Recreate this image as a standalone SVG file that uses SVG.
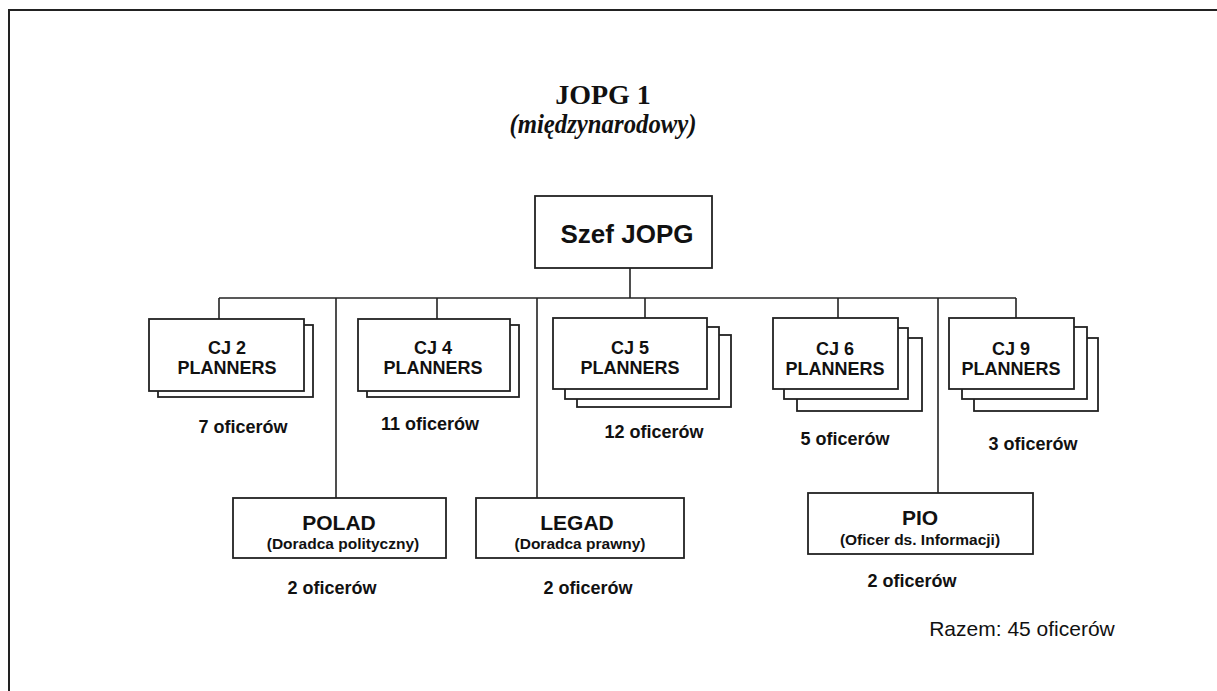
<svg xmlns="http://www.w3.org/2000/svg" width="1217" height="691" viewBox="0 0 1217 691">
<style>
.bx{fill:#fff;stroke:#222;stroke-width:1.8}
.ln{fill:none;stroke:#222;stroke-width:1.6}
.fr{fill:none;stroke:#222;stroke-width:2}
.t{font-family:"Liberation Sans",Arial,sans-serif;font-weight:bold;fill:#111;text-anchor:middle}
.cj{font-size:18px}
.of{font-size:18px}
.nm{font-size:21px}
.sub{font-size:15.5px}
.ttl{font-family:"Liberation Serif","Times New Roman",serif;font-weight:bold;fill:#111;text-anchor:middle}
</style>
<rect width="1217" height="691" fill="#fff"/>
<g id="frame">
<path class="fr" d="M8 10 H1217 M9 10 V691"/>
</g>
<g id="title">
<text class="ttl" x="603" y="104" font-size="28">JOPG 1</text>
<text class="ttl" x="603" y="133" font-size="27" font-style="italic" textLength="187" lengthAdjust="spacingAndGlyphs">(międzynarodowy)</text>
</g>
<g id="connectors">
<path class="ln" d="M219 298 H1016"/>
<path class="ln" d="M630 268 V298"/>
<path class="ln" d="M219 298 V319"/>
<path class="ln" d="M336 298 V498"/>
<path class="ln" d="M437 298 V319"/>
<path class="ln" d="M537 298 V498"/>
<path class="ln" d="M645 298 V318"/>
<path class="ln" d="M838 298 V318"/>
<path class="ln" d="M938 298 V493"/>
<path class="ln" d="M1016 298 V318"/>
</g>
<g id="szef">
<rect class="bx" x="535" y="196" width="177" height="72"/>
<text class="t" x="627" y="243" font-size="26">Szef JOPG</text>
</g>
<g id="cj2">
<rect class="bx" x="158" y="325" width="155" height="72"/>
<rect class="bx" x="149" y="319" width="155" height="72"/>
<text class="t cj" x="227" y="354">CJ 2</text>
<text class="t cj" x="227" y="374">PLANNERS</text>
<text class="t of" x="243" y="433">7 oficerów</text>
</g>
<g id="cj4">
<rect class="bx" x="367" y="325" width="152" height="72"/>
<rect class="bx" x="358" y="319" width="152" height="72"/>
<text class="t cj" x="433" y="354">CJ 4</text>
<text class="t cj" x="433" y="374">PLANNERS</text>
<text class="t of" x="430" y="430">11 oficerów</text>
</g>
<g id="cj5">
<rect class="bx" x="577" y="335" width="154" height="72"/>
<rect class="bx" x="565" y="327" width="154" height="72"/>
<rect class="bx" x="553" y="318" width="154" height="71"/>
<text class="t cj" x="630" y="354">CJ 5</text>
<text class="t cj" x="630" y="374">PLANNERS</text>
<text class="t of" x="654" y="438">12 oficerów</text>
</g>
<g id="cj6">
<rect class="bx" x="797" y="338" width="125" height="73"/>
<rect class="bx" x="784" y="328" width="124" height="71"/>
<rect class="bx" x="773" y="318" width="125" height="71"/>
<text class="t cj" x="835" y="355">CJ 6</text>
<text class="t cj" x="835" y="375">PLANNERS</text>
<text class="t of" x="845" y="445">5 oficerów</text>
</g>
<g id="cj9">
<rect class="bx" x="974" y="338" width="124" height="73"/>
<rect class="bx" x="962" y="327" width="125" height="72"/>
<rect class="bx" x="949" y="318" width="125" height="71"/>
<text class="t cj" x="1011" y="355">CJ 9</text>
<text class="t cj" x="1011" y="375">PLANNERS</text>
<text class="t of" x="1033" y="450">3 oficerów</text>
</g>
<g id="polad">
<rect class="bx" x="233" y="498" width="213" height="60"/>
<text class="t nm" x="339" y="530">POLAD</text>
<text class="t sub" x="343" y="549">(Doradca polityczny)</text>
<text class="t of" x="332" y="594">2 oficerów</text>
</g>
<g id="legad">
<rect class="bx" x="476" y="498" width="208" height="60"/>
<text class="t nm" x="577" y="530">LEGAD</text>
<text class="t sub" x="580" y="549">(Doradca prawny)</text>
<text class="t of" x="588" y="594">2 oficerów</text>
</g>
<g id="pio">
<rect class="bx" x="808" y="493" width="225" height="61"/>
<text class="t nm" x="920" y="525">PIO</text>
<text class="t sub" x="920" y="545">(Oficer ds. Informacji)</text>
<text class="t of" x="912" y="587">2 oficerów</text>
</g>
<g id="total">
<text x="1022" y="636" font-family="'Liberation Sans',Arial,sans-serif" font-size="21" fill="#111" text-anchor="middle">Razem: 45 oficerów</text>
</g>
</svg>
